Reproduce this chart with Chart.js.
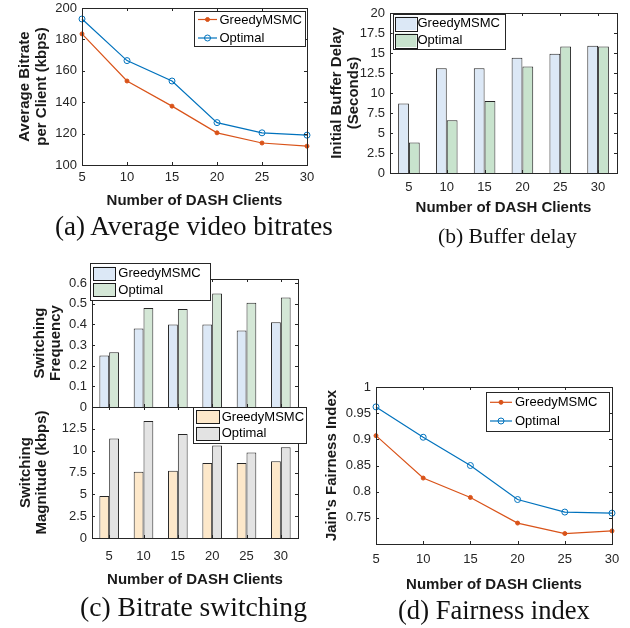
<!DOCTYPE html>
<html>
<head>
<meta charset="utf-8">
<script src="https://cdn.jsdelivr.net/npm/chart.js@4.4.1/dist/chart.umd.min.js"></script>
<style>
  body { margin: 0; background: #fff; width: 630px; height: 628px; position: relative; overflow: hidden; }
  canvas { position: absolute; }
  .cap { position: absolute; display: inline-block; white-space: nowrap; font-family: "Liberation Serif", serif; font-size: 22px; line-height: 1; color: #111; }
</style>
</head>
<body>
<canvas id="ca" style="left:0;top:0" width="320" height="210"></canvas>
<canvas id="cb" style="left:310px;top:0" width="320" height="217"></canvas>
<canvas id="cc1" style="left:0;top:250px" width="320" height="165"></canvas>
<canvas id="cc2" style="left:0;top:400px" width="320" height="189"></canvas>
<canvas id="cd" style="left:310px;top:370px" width="320" height="224"></canvas>
<div class="cap" data-w="278" data-cy="227" style="left:55px">(a) Average video bitrates</div>
<div class="cap" data-w="139" data-cy="237" style="left:438px">(b) Buffer delay</div>
<div class="cap" data-w="227" data-cy="607" style="left:80px">(c) Bitrate switching</div>
<div class="cap" data-w="192" data-cy="610" style="left:398px">(d) Fairness index</div>
<script>
const clients = ["5", "10", "15", "20", "25", "30"];

const bitrateGreedy = [183.5, 153.5, 137.5, 120.5, 114, 112];
const bitrateOptimal = [193, 166.5, 153.5, 127, 120.5, 119];
const bitrateTicks = [100, 120, 140, 160, 180, 200];

const delayGreedy = [8.7, 13.1, 13.1, 14.4, 14.9, 15.9];
const delayOptimal = [3.8, 6.6, 9.0, 13.3, 15.8, 15.8];
const delayTicks = [0, 2.5, 5, 7.5, 10, 12.5, 15, 17.5, 20];

const freqGreedy = [0.25, 0.38, 0.4, 0.4, 0.37, 0.41];
const freqOptimal = [0.265, 0.48, 0.475, 0.55, 0.505, 0.53];
const freqTicks = [0, 0.1, 0.2, 0.3, 0.4, 0.5, 0.6];

const magGreedy = [4.8, 7.6, 7.7, 8.6, 8.6, 8.8];
const magOptimal = [11.4, 13.4, 11.9, 10.6, 9.8, 10.4];
const magTicks = [0, 2.5, 5, 7.5, 10, 12.5];

const fairGreedy = [0.907, 0.826, 0.789, 0.74, 0.72, 0.725];
const fairOptimal = [0.962, 0.904, 0.85, 0.785, 0.761, 0.759];
const fairTicks = [0.75, 0.8, 0.85, 0.9, 0.95, 1];

Chart.defaults.font.family = '"Liberation Sans", Arial, sans-serif';
Chart.defaults.font.size = 13;
Chart.defaults.color = "#262626";

const ORANGE = "#d95319", BLUE = "#0072bd";
const AXIS = "#262626";

// box around the plot with inward tick marks on all four sides
const matlabAxes = {
  id: "matlabAxes",
  afterDatasetsDraw(chart) {
    const { ctx, chartArea: a } = chart;
    const xs = chart.scales.x, ys = chart.scales.y;
    const tl = 3;
    ctx.save();
    ctx.strokeStyle = AXIS;
    ctx.lineWidth = 1;
    ctx.beginPath();
    xs.ticks.forEach((t, i) => {
      const px = Math.round(xs.getPixelForTick(i)) + 0.5;
      ctx.moveTo(px, a.bottom); ctx.lineTo(px, a.bottom - tl);
      ctx.moveTo(px, a.top); ctx.lineTo(px, a.top + tl);
    });
    ys.ticks.forEach((t, i) => {
      const py = Math.round(ys.getPixelForTick(i)) + 0.5;
      ctx.moveTo(a.left, py); ctx.lineTo(a.left + tl, py);
      ctx.moveTo(a.right, py); ctx.lineTo(a.right - tl, py);
    });
    ctx.stroke();
    ctx.strokeRect(Math.round(a.left) + 0.5, Math.round(a.top) + 0.5,
      Math.round(a.right - a.left), Math.round(a.bottom - a.top));
    ctx.restore();
  }
};

// legend drawn inside the axes like matlab does
const boxLegend = {
  id: "boxLegend",
  afterDraw(chart, args, o) {
    if (!o || !o.box) return;
    const ctx = chart.ctx;
    const [bx, by, bw, bh] = o.box;
    ctx.save();
    ctx.fillStyle = "#fff";
    ctx.fillRect(bx, by, bw, bh);
    ctx.strokeStyle = AXIS;
    ctx.lineWidth = 1;
    ctx.strokeRect(Math.round(bx) + 0.5, Math.round(by) + 0.5, Math.round(bw), Math.round(bh));
    ctx.font = '13px "Liberation Sans", Arial, sans-serif';
    ctx.textBaseline = "middle";
    chart.data.datasets.forEach((ds, i) => {
      const cy = by + o.first + i * o.rowH;
      const x0 = bx + o.sx;
      if (o.kind === "line") {
        ctx.strokeStyle = ds.borderColor;
        ctx.lineWidth = ds.borderWidth;
        ctx.beginPath();
        ctx.moveTo(x0, cy); ctx.lineTo(x0 + o.sw, cy);
        ctx.stroke();
        ctx.beginPath();
        ctx.arc(x0 + o.sw / 2, cy, ds.pointRadius, 0, Math.PI * 2);
        if (ds.pointBackgroundColor !== "rgba(0,0,0,0)") {
          ctx.fillStyle = ds.pointBackgroundColor;
          ctx.fill();
        }
        ctx.lineWidth = 1;
        ctx.stroke();
      } else {
        ctx.fillStyle = ds.backgroundColor;
        ctx.fillRect(x0, cy - o.ph / 2, o.sw, o.ph);
        ctx.strokeStyle = "#1a1a1a";
        ctx.lineWidth = 1;
        ctx.strokeRect(Math.round(x0) + 0.5, Math.round(cy - o.ph / 2) + 0.5, Math.round(o.sw), Math.round(o.ph));
      }
      ctx.fillStyle = "#000";
      ctx.fillText(ds.label, bx + o.tx, cy + 0.5);
    });
    ctx.restore();
  }
};

function lineSet(label, data, color, hollow) {
  return {
    label, data,
    borderColor: color, borderWidth: 1.2,
    pointRadius: hollow ? 3 : 2,
    pointBorderWidth: 1,
    pointBorderColor: color,
    pointBackgroundColor: hollow ? "rgba(0,0,0,0)" : color,
    tension: 0
  };
}

function barSet(label, data, color) {
  return {
    label, data,
    backgroundColor: color,
    borderColor: "#262626", borderWidth: 1, borderSkipped: "start",
    inflateAmount: 0,
    categoryPercentage: 0.571, barPercentage: 1
  };
}

function yTitle(text, padTop) {
  return {
    display: true, text, color: "#1a1a1a",
    font: { size: 15, weight: "bold", lineHeight: 1.1 },
    padding: { top: padTop, bottom: 0 }
  };
}

function xTitle() {
  return {
    display: true, text: "Number of DASH Clients", color: "#1a1a1a",
    font: { size: 15, weight: "bold", lineHeight: 1.2 },
    padding: 0
  };
}

function makeScales(o) {
  return {
    x: {
      grid: { display: false, drawTicks: false },
      border: { display: false },
      ticks: { display: o.xLabels !== false, padding: o.xPad, maxRotation: 0, autoSkip: false },
      title: o.xLabels === false ? { display: false } : xTitle(),
      afterFit: s => { s.height = o.xH; s.paddingLeft = 0; s.paddingRight = 0; }
    },
    y: {
      min: o.min, max: o.max,
      grid: { display: false, drawTicks: false },
      border: { display: false },
      ticks: { padding: 5, callback: v => String(v) },
      afterBuildTicks: s => { s.ticks = o.ticks.map(v => ({ value: v })); },
      title: yTitle(o.title, o.titlePad),
      afterFit: s => { s.width = o.yW; s.paddingTop = 0; s.paddingBottom = 0; }
    }
  };
}

function make(id, type, datasets, padding, scaleOpts, legend) {
  return new Chart(document.getElementById(id), {
    type,
    data: { labels: clients, datasets },
    options: {
      responsive: false,
      animation: false,
      devicePixelRatio: 1,
      layout: { padding },
      plugins: { legend: { display: false }, tooltip: { enabled: false }, boxLegend: legend },
      scales: makeScales(scaleOpts)
    },
    plugins: [matlabAxes, boxLegend]
  });
}

// (a) average bitrate
make("ca", "line",
  [lineSet("GreedyMSMC", bitrateGreedy, ORANGE, false), lineSet("Optimal", bitrateOptimal, BLUE, true)],
  { left: 0, top: 8, right: 13, bottom: 0 },
  { min: 100, max: 200, ticks: bitrateTicks, title: ["Average Bitrate", "per Client (kbps)"], titlePad: 16.75, yW: 82, xH: 45, xPad: 5 },
  { box: [194, 11, 111, 35], kind: "line", first: 8.5, rowH: 18.5, sx: 4, sw: 19, tx: 25.5 });

// (b) buffer delay
make("cb", "bar",
  [barSet("GreedyMSMC", delayGreedy, "#dce8f6"), barSet("Optimal", delayOptimal, "#c8e3cd")],
  { left: 0, top: 13, right: 13, bottom: 0 },
  { min: 0, max: 20, ticks: delayTicks, title: ["Initial Buffer Delay", "(Seconds)"], titlePad: 18.75, yW: 80, xH: 44, xPad: 6.5 },
  { box: [82.7, 14, 112.3, 35], kind: "patch", first: 9.3, rowH: 17, sx: 2.3, sw: 21.5, ph: 13.5, tx: 24.8 });

// (c) switching frequency (top), x labels are shared with the plot below
make("cc1", "bar",
  [barSet("GreedyMSMC", freqGreedy, "#dce8f6"), barSet("Optimal", freqOptimal, "#d4e7d6")],
  { left: 0, top: 29, right: 22, bottom: 0 },
  { min: 0, max: 0.62, ticks: freqTicks, title: ["Switching", "Frequency"], titlePad: 31.5, yW: 92, xH: 8, xLabels: false },
  { box: [90, 13.3, 120, 36.7], kind: "patch", first: 10, rowH: 16.7, sx: 3.3, sw: 22, ph: 13.3, tx: 28.3 });

// (c) switching magnitude (bottom)
make("cc2", "bar",
  [barSet("GreedyMSMC", magGreedy, "#fde8ca"), barSet("Optimal", magOptimal, "#e3e3e3")],
  { left: 0, top: 7, right: 22, bottom: 0 },
  { min: 0, max: 15, ticks: magTicks, title: ["Switching", "Magnitude (kbps)"], titlePad: 17.5, yW: 92, xH: 51, xPad: 10.5 },
  { box: [193.3, 7.3, 113.4, 36], kind: "patch", first: 9.4, rowH: 16.6, sx: 2.7, sw: 23, ph: 13.3, tx: 28.4 });

// (d) fairness index
make("cd", "line",
  [lineSet("GreedyMSMC", fairGreedy, ORANGE, false), lineSet("Optimal", fairOptimal, BLUE, true)],
  { left: 0, top: 17, right: 18, bottom: 0 },
  { min: 0.7, max: 1, ticks: fairTicks, title: "Jain's Fairness Index", titlePad: 13.45, yW: 66, xH: 50, xPad: 8 },
  { box: [176, 21.7, 123, 38.8], kind: "line", first: 10.6, rowH: 18.7, sx: 4, sw: 22, tx: 29 });

// each caption was scaled with its own sub-figure, so fit it to its measured width
document.querySelectorAll(".cap").forEach(el => {
  const target = +el.dataset.w;
  const natural = el.getBoundingClientRect().width;
  const size = 22 * target / natural;
  el.style.fontSize = size + "px";
  el.style.top = (+el.dataset.cy - size / 2) + "px";
});
</script>
</body>
</html>
